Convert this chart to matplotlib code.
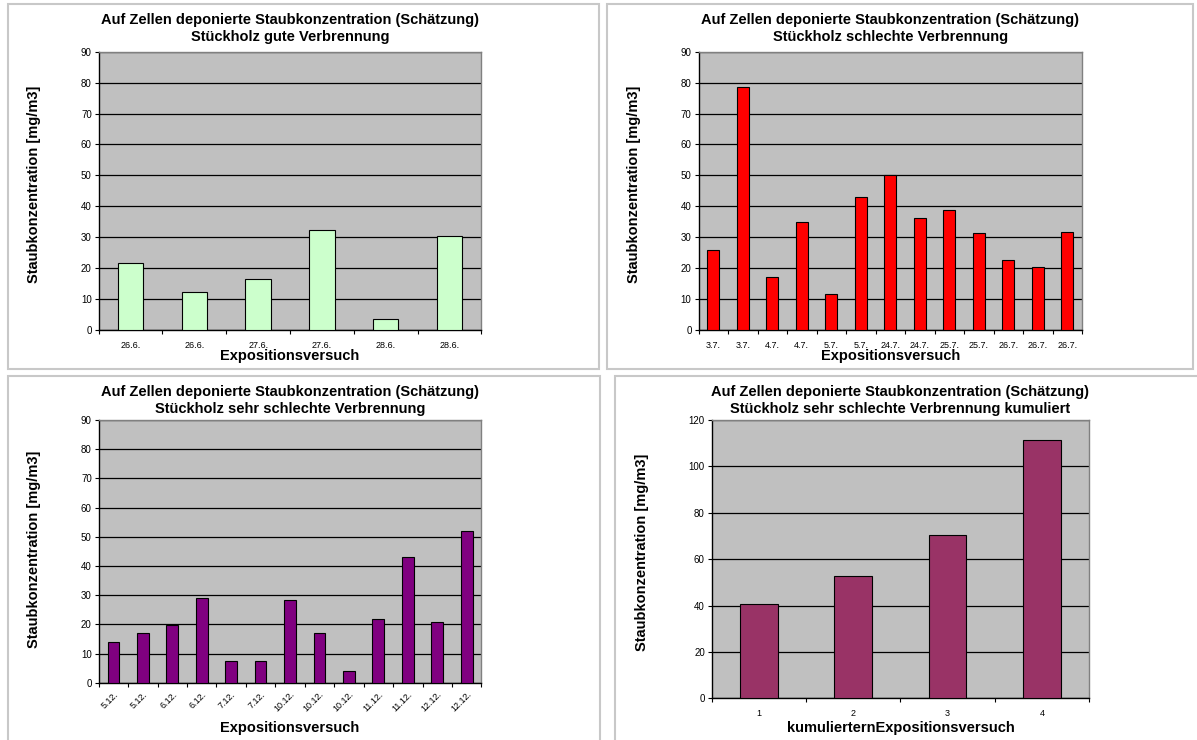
import numpy as np
import matplotlib
matplotlib.use('Agg')
import matplotlib.pyplot as plt
from matplotlib.patches import Rectangle

plt.rcParams['font.family'] = ['Liberation Sans', 'DejaVu Sans']

title_top = 'Auf Zellen deponierte Staubkonzentration (Schätzung)'
y_label = 'Staubkonzentration [mg/m3]'

gut_dates = ['26.6.', '26.6.', '27.6.', '27.6.', '28.6.', '28.6.']
gut_values = [21.8, 12.3, 16.5, 32.4, 3.4, 30.4]

schlecht_dates = ['3.7.', '3.7.', '4.7.', '4.7.', '5.7.', '5.7.', '24.7.',
                  '24.7.', '25.7.', '25.7.', '26.7.', '26.7.', '26.7.']
schlecht_values = [25.8, 78.6, 17.2, 34.8, 11.7, 43.1, 50.0,
                   36.1, 38.7, 31.5, 22.7, 20.4, 31.6]

sehr_dates = ['5.12.', '5.12.', '6.12.', '6.12.', '7.12.', '7.12.', '10.12.',
              '10.12.', '10.12.', '11.12.', '11.12.', '12.12.', '12.12.']
sehr_values = [14.0, 16.9, 19.6, 28.9, 7.5, 7.3, 28.4,
               16.9, 3.9, 21.7, 43.2, 20.8, 51.9]

kum_steps = ['1', '2', '3', '4']
kum_values = [40.8, 52.6, 70.4, 111.5]

W, H = 1197, 740
fig = plt.figure(figsize=(W / 100, H / 100), dpi=100)


def px_axes(x0, y0, x1, y1):
    return fig.add_axes([x0 / W, 1 - y1 / H, (x1 - x0) / W, (y1 - y0) / H])


def frame(x0, y0, x1, y1):
    fig.add_artist(Rectangle((x0 / W, 1 - y1 / H), (x1 - x0) / W, (y1 - y0) / H,
                             transform=fig.transFigure, fill=False,
                             edgecolor='#c8c8c8', lw=1.5))


def bar_panel(ax, labels, values, color, subtitle, ymax, ystep,
              xlabel='Expositionsversuch', rot=0, title_pad=7.5,
              ylab_pos=(-0.150, 0.525), xlab_y=-0.068):
    n = len(values)
    x = np.arange(n)
    ax.bar(x, values, width=0.4, color=color, edgecolor='black', lw=0.8, zorder=3)
    ax.set_xlim(-0.5, n - 0.5)
    ax.set_ylim(0, ymax)
    ax.set_yticks(np.arange(0, ymax + 1, ystep))
    ax.set_facecolor('#c0c0c0')
    ax.yaxis.grid(True, color='black', lw=0.9)
    ax.set_axisbelow(True)

    # category borders get the tick marks, labels sit in between
    ax.set_xticks(np.arange(n + 1) - 0.5)
    ax.tick_params(axis='x', which='major', labelbottom=False, length=3,
                   width=0.8, direction='out')
    ax.set_xticks(x, labels, minor=True)
    if rot:
        ax.tick_params(axis='x', which='minor', length=0, pad=5, labelsize=6.5)
        for t in ax.get_xticklabels(minor=True):
            t.set_rotation(45)
            t.set_ha('right')
            t.set_va('top')
            t.set_rotation_mode('anchor')
    else:
        ax.tick_params(axis='x', which='minor', length=0, pad=8, labelsize=6.5)
    ax.tick_params(axis='y', length=3, width=0.8, pad=2, labelsize=7)

    for side in ('left', 'bottom'):
        ax.spines[side].set_color('black')
        ax.spines[side].set_linewidth(1)
    for side in ('top', 'right'):
        ax.spines[side].set_color('#808080')
        ax.spines[side].set_linewidth(1)

    ax.set_title(title_top + '\n' + subtitle, fontsize=10.5,
                 fontweight='bold', pad=title_pad, linespacing=1.3)
    ax.set_ylabel(y_label, fontsize=10.5, fontweight='bold')
    ax.yaxis.set_label_coords(*ylab_pos)
    ax.set_xlabel(xlabel, fontsize=10.5, fontweight='bold')
    ax.xaxis.set_label_coords(0.5, xlab_y)


frame(7.7, 4, 599, 369)
frame(607, 4, 1193, 369)
frame(7.7, 376, 600, 745)
frame(615, 376, 1205, 745)

ax1 = px_axes(98.7, 51.7, 481.4, 330)
bar_panel(ax1, gut_dates, gut_values, '#ccffcc',
          'Stückholz gute Verbrennung', 90, 10)

ax2 = px_axes(698.5, 51.7, 1082, 330)
bar_panel(ax2, schlecht_dates, schlecht_values, '#ff0000',
          'Stückholz schlechte Verbrennung', 90, 10, ylab_pos=(-0.149, 0.525))

ax3 = px_axes(98.7, 420, 481.4, 682.7)
bar_panel(ax3, sehr_dates, sehr_values, '#800080',
          'Stückholz sehr schlechte Verbrennung', 90, 10, rot=45,
          title_pad=5, ylab_pos=(-0.150, 0.509), xlab_y=-0.146)

ax4 = px_axes(711.8, 420, 1089, 698.3)
bar_panel(ax4, kum_steps, kum_values, '#993366',
          'Stückholz sehr schlechte Verbrennung kumuliert', 120, 20,
          xlabel='kumulierternExpositionsversuch', title_pad=5,
          ylab_pos=(-0.167, 0.524), xlab_y=-0.082)

fig.savefig('out.png', dpi=100)
